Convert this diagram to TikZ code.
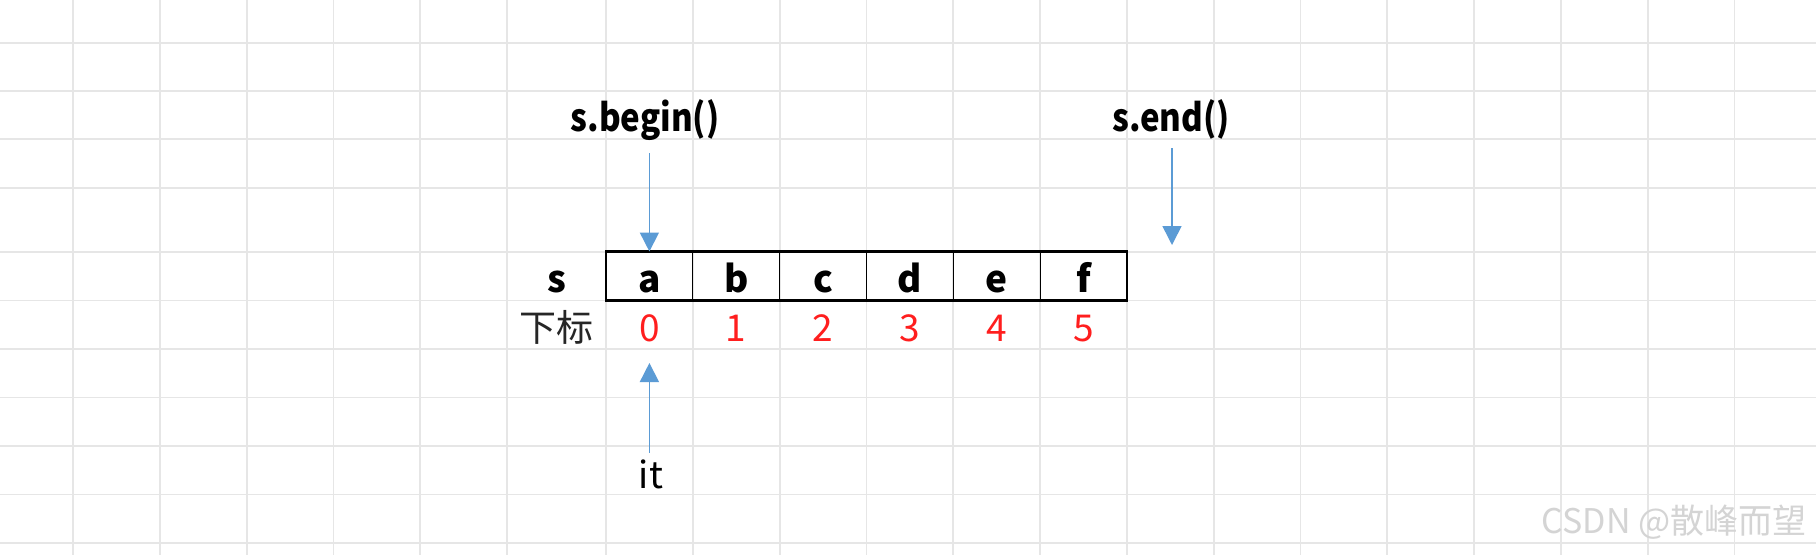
\documentclass[tikz,border=0pt]{standalone}
\usepackage{fontspec}
\setmainfont{Noto Sans CJK SC}
\newfontfamily\condfont[FakeStretch=0.87,BoldFeatures={FakeStretch=0.87}]{Noto Sans CJK SC}
\usetikzlibrary{positioning,arrows.meta}
\definecolor{gridgray}{RGB}{230,230,230}
\definecolor{ptrblue}{RGB}{91,155,213}
\definecolor{idxred}{RGB}{255,30,30}
\definecolor{wmgray}{RGB}{212,212,212}

\begin{document}
\begin{tikzpicture}[
    x=1pt,y=-1pt,
    gridline/.style={gridgray,line width=1.8pt},
    cell/.style={
      draw,line width=1pt,outer sep=0pt,inner sep=0pt,
      minimum width=86.8pt,minimum height=49pt,
      text height=36pt,text depth=4pt,
      font=\bfseries\fontsize{37}{40}\selectfont
    },
    idx/.style={
      outer sep=0pt,inner sep=0pt,
      minimum width=86.8pt,minimum height=49pt,
      text height=36pt,text depth=4pt,
      text=idxred,font=\fontsize{37}{40}\selectfont
    },
    rowhead/.style={
      outer sep=0pt,inner sep=0pt,
      minimum width=99pt,minimum height=49pt,
      text height=36pt,text depth=4pt
    },
    ptrtext/.style={
      inner sep=0pt,text height=27pt,text depth=8pt,
      font=\condfont\bfseries\fontsize{38}{40}\selectfont
    },
    ittext/.style={
      inner sep=0pt,text height=27pt,text depth=8pt,
      font=\fontsize{37}{40}\selectfont
    },
    wmtext/.style={
      inner sep=0pt,text=wmgray,font=\fontsize{34}{36}\selectfont
    },
    ptr/.style={
      ptrblue,line width=1.6pt,-{Triangle[width=19pt,length=19pt]}
    }
  ]
    \useasboundingbox (0,0) rectangle (1816,555);
    \fill[white] (0,0) rectangle (1816,555);

    \foreach \y in {43,91,139,188,252,300.5,349,397.5,446,494.5,543}
      \draw[gridline] (0,\y) -- (1816,\y);
    \foreach \x in {73,159.8,...,508}
      \draw[gridline] (\x,0) -- (\x,555);
    \foreach \x in {606,692.8,...,1816}
      \draw[gridline] (\x,0) -- (\x,555);

    \node[cell] (a) at (649.4,276) {a};
    \node[cell,right=0pt of a] (b) {b};
    \node[cell,right=0pt of b] (c) {c};
    \node[cell,right=0pt of c] (d) {d};
    \node[cell,right=0pt of d] (e) {e};
    \node[cell,right=0pt of e] (f) {f};
    \draw[line width=2.4pt] (a.north west) rectangle (f.south east);

    \node[idx,below=0pt of a] (i0) {0};
    \node[idx,right=0pt of i0] (i1) {1};
    \node[idx,right=0pt of i1] (i2) {2};
    \node[idx,right=0pt of i2] (i3) {3};
    \node[idx,right=0pt of i3] (i4) {4};
    \node[idx,right=0pt of i4] (i5) {5};

    \node[rowhead,left=0pt of a,font=\bfseries\fontsize{37}{40}\selectfont] (sname) {s};
    \node[rowhead,left=0pt of i0,text=black!85,font=\fontsize{37}{40}\selectfont] (subname) {下标};

    \node[ptrtext] (beg) at (645,121.5) {s.begin()};
    \node[ptrtext] (endl) at (1171,121.5) {s.end()};
    \coordinate (endtip) at (1172,245);
    \node[ittext] (it) at (651,478.5) {it};

    \draw[ptr,shorten <=14pt] (beg.south -| a.north) -- (a.north);
    \draw[ptr,shorten <=9pt] (endl.south -| endtip) -- (endtip);
    \draw[ptr,shorten <=8pt,shorten >=13.5pt] (it.north -| i0.south) -- (i0.south);

    \node[wmtext] (wm) at (1674,522) {CSDN @散峰而望};
  \end{tikzpicture}
\end{document}
